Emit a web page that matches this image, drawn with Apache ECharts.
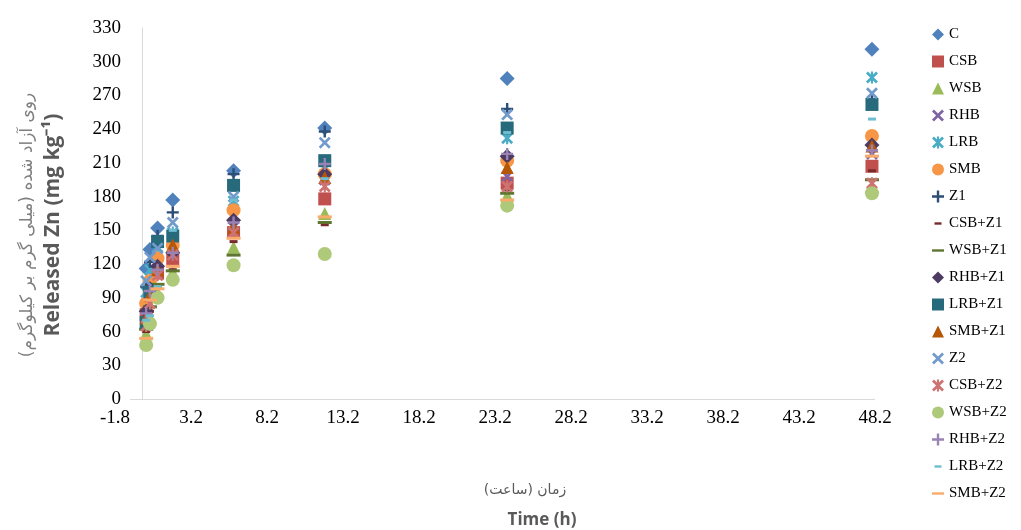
<!DOCTYPE html>
<html>
<head>
<meta charset="utf-8">
<script src="https://cdn.jsdelivr.net/npm/echarts@6/dist/echarts.min.js"></script>
<style>
html,body{margin:0;padding:0;background:#fff;}
#chart{width:1021px;height:530px;}
</style>
</head>
<body>
<div id="chart"></div>
<script>
// ---- data ----
const times = [0.25, 0.5, 1, 2, 6, 12, 24, 48];
const xTickMin = -1.8, xTickMax = 48.2, xTickStep = 5;
const yTickMin = 0, yTickMax = 330, yTickStep = 30;

const C       = [116, 133, 152, 177, 203, 241, 285, 311];
const CSB     = [75, 92, 112, 125, 148, 178, 192, 207];
const WSB     = [58, 72, 95, 113, 135, 165, 181, 188];
const RHB     = [82, 102, 120, 133, 153, 195, 198, 218];
const LRB     = [95, 115, 135, 148, 176, 205, 232, 286];
const SMB     = [85, 105, 125, 137, 168, 200, 212, 234];
const Z1      = [100, 122, 145, 166, 200, 238, 258, 265];
const CSB_Z1  = [60, 78, 100, 115, 140, 155, 186, 203];
const WSB_Z1  = [62, 82, 102, 114, 128, 157, 183, 195];
const RHB_Z1  = [78, 98, 118, 130, 159, 200, 216, 226];
const LRB_Z1  = [68, 95, 140, 145, 190, 212, 241, 262];
const SMB_Z1  = [72, 92, 115, 137, 153, 197, 206, 225];
const Z2      = [105, 126, 134, 157, 180, 228, 253, 272];
const CSB_Z2  = [65, 85, 110, 128, 148, 189, 189, 192];
const WSB_Z2  = [48, 67, 90, 106, 119, 129, 172, 183];
const RHB_Z2  = [76, 96, 115, 130, 157, 209, 218, 221];
const LRB_Z2  = [70, 74, 100, 150, 177, 196, 237, 249];
const SMB_Z2  = [54, 88, 98, 118, 143, 162, 177, 216];

const seriesNames = ['C','CSB','WSB','RHB','LRB','SMB','Z1','CSB+Z1','WSB+Z1','RHB+Z1','LRB+Z1','SMB+Z1','Z2','CSB+Z2','WSB+Z2','RHB+Z2','LRB+Z2','SMB+Z2'];
const seriesValues = [C, CSB, WSB, RHB, LRB, SMB, Z1, CSB_Z1, WSB_Z1, RHB_Z1, LRB_Z1, SMB_Z1, Z2, CSB_Z2, WSB_Z2, RHB_Z2, LRB_Z2, SMB_Z2];

// ---- styles ----
const colors = ['#4F81BD','#C0504D','#9BBB59','#8064A2','#4BACC6','#F79646',
                '#2C4D75','#772C2A','#5F7530','#4D3B62','#276A7C','#B65708',
                '#729ACA','#CD7371','#AFC97A','#9983B5','#6FBDD1','#F9AB6B'];
const X_PATH = 'path://M1.6,0L5,3.4L8.4,0L10,1.6L6.6,5L10,8.4L8.4,10L5,6.6L1.6,10L0,8.4L3.4,5L0,1.6Z';
const STAR_PATH = X_PATH + 'M4.1,0L5.9,0L5.9,10L4.1,10Z';
const PLUS_PATH = 'path://M4,0L6,0L6,4L10,4L10,6L6,6L6,10L4,10L4,6L0,6L0,4L4,4Z';
const SHORT_ICON = 'path://M0,0M12,12M2.5,4.8L9.5,4.8L9.5,7.2L2.5,7.2Z';
const LONG_ICON = 'path://M0,0M12,12M0,4.8L12,4.8L12,7.2L0,7.2Z';
const markerCycle = [
  {symbol:'diamond', size:15},
  {symbol:'rect', size:13},
  {symbol:'triangle', size:13},
  {symbol:X_PATH, size:12},
  {symbol:STAR_PATH, size:12},
  {symbol:'circle', size:14},
  {symbol:PLUS_PATH, size:12},
  {symbol:'rect', size:[8,3], icon:SHORT_ICON},
  {symbol:'rect', size:[14,3], icon:LONG_ICON}
];

const series = seriesNames.map((name, i) => {
  const m = markerCycle[i % 9];
  return {
    name: name,
    type: 'scatter',
    data: times.map((t, k) => [t, seriesValues[i][k]]),
    symbol: m.symbol,
    symbolSize: m.size,
    itemStyle: {color: colors[i], opacity: 1},
    emphasis: {disabled: true}
  };
});
// horizontal axis baseline (starts a little right of the plot edge, as in the original)
series[0].markLine = {
  silent: true, symbol: 'none', animation: false,
  label: {show: false},
  lineStyle: {color: '#d9d9d9', width: 1, type: 'solid'},
  data: [[{coord: [-0.8, 0]}, {coord: [xTickMax, 0]}]]
};
const legendData = seriesNames.map((name, i) => {
  const m = markerCycle[i % 9];
  return m.icon ? {name: name, icon: m.icon} : {name: name};
});

const chart = echarts.init(document.getElementById('chart'), null, {renderer: 'canvas'});
chart.setOption({
  animation: false,
  backgroundColor: '#fff',
  color: colors,
  grid: {left: 115, top: 28, width: 760, height: 371},
  xAxis: {
    type: 'value',
    min: xTickMin, max: xTickMax, interval: xTickStep,
    axisLine: {show: false},
    axisTick: {show: false},
    splitLine: {show: false},
    axisLabel: {
      margin: 10, color: '#000', fontFamily: 'Liberation Serif', fontSize: 19,
      formatter: v => v.toFixed(1), showMinLabel: true, showMaxLabel: true
    }
  },
  yAxis: {
    type: 'value',
    min: yTickMin, max: yTickMax, interval: yTickStep,
    axisLine: {show: true, onZero: true, lineStyle: {color: '#d9d9d9', width: 1}},
    axisTick: {show: false},
    splitLine: {show: false},
    axisLabel: {margin: -6, color: '#000', fontFamily: 'Liberation Serif', fontSize: 19}
  },
  legend: {
    orient: 'vertical',
    left: 927, top: 21,
    itemWidth: 12, itemHeight: 12,
    itemGap: 10,
    textStyle: {fontFamily: 'Liberation Serif', fontSize: 15, color: '#000', lineHeight: 17},
    data: legendData,
    selectedMode: false
  },
  graphic: [
    {type: 'text', x: 28, y: 225, rotation: Math.PI / 2,
     style: {text: 'روی آزاد شده (میلی گرم بر کیلوگرم)', font: '17px "DejaVu Sans"', fill: '#7f7f7f', align: 'center', verticalAlign: 'middle'}},
    {type: 'text', x: 53, y: 225, rotation: Math.PI / 2,
     style: {text: 'Released Zn (mg kg⁻¹)', font: 'bold 21px "Open Sans"', fill: '#595959', align: 'center', verticalAlign: 'middle'}},
    {type: 'text', x: 525, y: 490,
     style: {text: 'زمان (ساعت)', font: '14px "DejaVu Sans"', fill: '#595959', align: 'center', verticalAlign: 'middle'}},
    {type: 'text', x: 542, y: 520,
     style: {text: 'Time (h)', font: 'bold 17px "Open Sans"', fill: '#595959', align: 'center', verticalAlign: 'middle'}}
  ],
  series: series
});
</script>
</body>
</html>
